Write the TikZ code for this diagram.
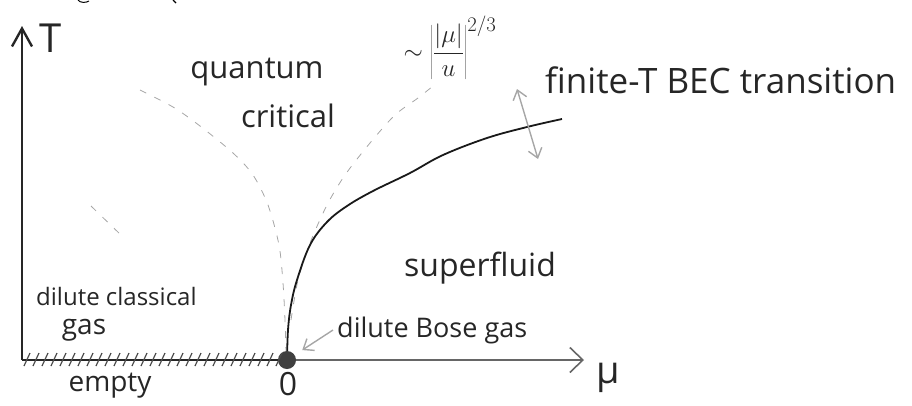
\documentclass[tikz,border=0pt]{standalone}
\usepackage{fontspec}
\setmainfont{Open Sans}
\usetikzlibrary{arrows.meta}
\newcommand{\handsz}[1]{\fontsize{#1}{#1}\selectfont}

\begin{document}
\begin{tikzpicture}[x=1pt, y=-1pt,
    axis/.style={line width=2.4pt, black!85},
    lbl/.style={inner sep=0pt, text=black!85},
    cross/.style={gray!70, line width=0.8pt, dash pattern=on 7pt off 9pt},
    pointer/.style={gray!70, line width=1.4pt},
    barb/.tip={Straight Barb[length=9pt, width=14pt]}
]
    \useasboundingbox (0,0) rectangle (912,405);
    \coordinate (orig) at (22,360);
    \coordinate (Ttip) at (22,26);
    \coordinate (mutip) at (584,360);
    \coordinate (becA) at (517,89);
    \coordinate (becB) at (538,159);

    % crossover lines
    \draw[cross] plot[smooth] coordinates {(140,90) (173,107) (200,126) (233,153) (253,175) (268,205) (279,245) (283,283) (285,320) (286,352)};
    \draw[cross] plot[smooth] coordinates {(291,320) (298,280) (310,243) (327,205) (345,175) (370,143) (395,115) (418,98) (433,86)};
    \draw[cross] (91,206) -- (122,236);

    % transition line
    \draw[line width=1.8pt, black!90] plot[smooth, tension=0.6] coordinates {(287,360) (288,330) (291,305) (297,280) (310,245) (327,222) (347,206) (373,191) (410,173) (443,155) (487,138) (527,127) (562,119)};
    \draw[pointer, barb-barb] (becA) -- (becB);

    \node[circle, fill=black!75, minimum size=18pt, inner sep=0pt] (qcp) at (287,360) {};

    % axes
    \draw[axis, -{Straight Barb[length=18pt, width=20pt]}] (orig) -- (Ttip);
    \draw[axis] (orig) -- (qcp);
    \draw[black!60, line width=1.6pt, -{Straight Barb[length=13pt, width=25pt]}] (qcp) -- (mutip);
    \foreach \x in {27,36,...,279}
        \draw[black!70, line width=1.2pt] (\x-3,366) -- (\x+3,353);

    % labels
    \node[lbl, font=\handsz{40}] (Tlab) at (51,38) {T};
    \node[lbl, font=\handsz{38}] (mulab) at (608,378) {μ};
    \node[lbl, font=\handsz{32}] (zero) at (288,384) {0};
    \node[lbl, font=\handsz{28}] (empty) at (110,386) {empty};
    \node[lbl, font=\handsz{24}, anchor=west] (dcg) at (36,296) {dilute classical};
    \node[lbl, font=\handsz{28}] (gas) at (84,330) {gas};
    \node[lbl, font=\handsz{31}] (qc1) at (257,72) {quantum};
    \node[lbl, font=\handsz{31}] (qc2) at (288,116) {critical};
    \node[lbl, font=\handsz{30}] (scal) at (450,48) {$\displaystyle\sim\left|\frac{|\mu|}{u}\right|^{2/3}$};
    \node[lbl, font=\handsz{32}] (sf) at (480,268) {superfluid};
    \node[lbl, font=\handsz{27}, anchor=west] (dbg) at (337,330) {dilute Bose gas};
    \node[lbl, font=\handsz{35}, anchor=west] (bec) at (545,80) {finite-T BEC transition};
    \draw[pointer, -barb, shorten >=9pt] ([xshift=-4pt]dbg.west) -- (qcp);

    % cut-off strokes at the top edge
    \draw[line width=1pt] (78,0) .. controls (80,3) and (86,3) .. (89,1);
    \draw[line width=1.2pt] (173,0) -- (176,3);
\end{tikzpicture}
\end{document}
